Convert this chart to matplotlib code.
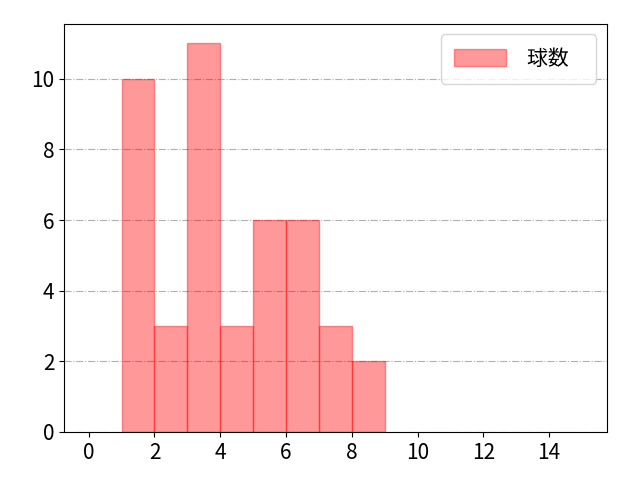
import numpy as np
import matplotlib
matplotlib.use('Agg')
import matplotlib.pyplot as plt

plt.rcParams['font.family'] = ['Noto Sans CJK JP', 'DejaVu Sans']

bin_left = [1, 2, 3, 4, 5, 6, 7, 8]
counts = [10, 3, 11, 3, 6, 6, 3, 2]
xticks = [0, 2, 4, 6, 8, 10, 12, 14]

fig, ax = plt.subplots(figsize=(6.4, 4.8), dpi=100)
ax.bar(bin_left, counts, width=1, align='edge', color='red', alpha=0.4,
       edgecolor='red', linewidth=1, label='球数   ')
ax.set_xlim(-0.75, 15.75)
ax.set_ylim(0, 11.55)
ax.set_xticks(xticks)
ax.set_yticks([0, 2, 4, 6, 8, 10])
ax.tick_params(labelsize=15)
ax.grid(axis='y', linestyle='-.', color='#b0b0b0')
ax.set_axisbelow(True)
ax.legend(loc='upper right', fontsize=15, handlelength=2.5, handleheight=0.9,
          handletextpad=1.0, borderpad=0.65)
plt.subplots_adjust(left=0.1, right=0.948, top=0.95, bottom=0.1)
plt.savefig('out.png')
